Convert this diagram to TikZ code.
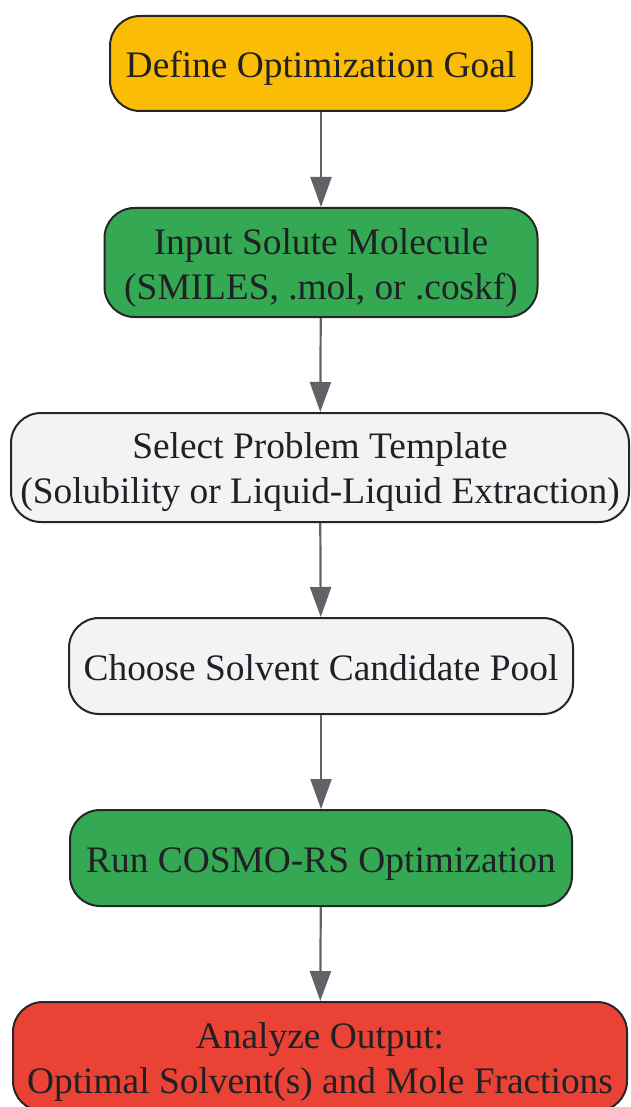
\documentclass[tikz,border=0pt]{standalone}
\usepackage{fontspec}
\setmainfont{Liberation Serif}
\usetikzlibrary{arrows.meta}

\definecolor{goalyellow}{HTML}{FBBC05}
\definecolor{stepgreen}{HTML}{34A853}
\definecolor{stepgray}{HTML}{F1F3F4}
\definecolor{outred}{HTML}{EA4335}
\definecolor{linegray}{HTML}{5F6368}
\definecolor{textdark}{HTML}{202124}

\newcommand\linestrut{\rule[-8pt]{0pt}{45pt}}
\newcommand\tallstrut{\rule[-8pt]{0pt}{44pt}}

\tikzset{
    flowbox/.style={draw=black!85, line width=2pt, rounded corners=30pt, align=center,
        text=textdark, font=\fontsize{37.4}{45}\selectfont, inner sep=0pt,
        execute at begin node=\linestrut},
    twoline/.style={execute at begin node={}, minimum height=109pt},
    flowarrow/.style={draw=linegray, line width=2.2pt, -{Triangle[length=30pt,width=21pt]}}
}

\begin{document}
\begin{tikzpicture}[x=1pt, y=-1pt]
        \useasboundingbox (0, 0) rectangle (630, 1107);

        % steps
        \node[flowbox, fill=goalyellow, minimum width=422pt, minimum height=95pt] (goal) at (321, 63.5) {Define Optimization Goal};
        \node[flowbox, twoline, fill=stepgreen, minimum width=433pt] (solute) at (321, 262.5) {\tallstrut Input Solute Molecule\\(SMILES, .mol, or .coskf)};
        \node[flowbox, twoline, fill=stepgray, minimum width=618pt] (template) at (320, 467.5) {\tallstrut Select Problem Template\\(Solubility or Liquid-Liquid Extraction)};
        \node[flowbox, fill=stepgray, minimum width=504pt, minimum height=96pt] (pool) at (321, 666) {Choose Solvent Candidate Pool};
        \node[flowbox, fill=stepgreen, minimum width=502pt, minimum height=96pt] (run) at (321, 858) {Run COSMO-RS Optimization};
        \node[flowbox, twoline, fill=outred, minimum width=614pt] (output) at (320, 1056.5) {\tallstrut Analyze Output:\\Optimal Solvent(s) and Mole Fractions};

        % connectors
        \draw[flowarrow] (goal) -- (solute);
        \draw[flowarrow] (solute) -- (template);
        \draw[flowarrow] (template) -- (pool);
        \draw[flowarrow] (pool) -- (run);
        \draw[flowarrow] (run) -- (output);
\end{tikzpicture}
\end{document}
